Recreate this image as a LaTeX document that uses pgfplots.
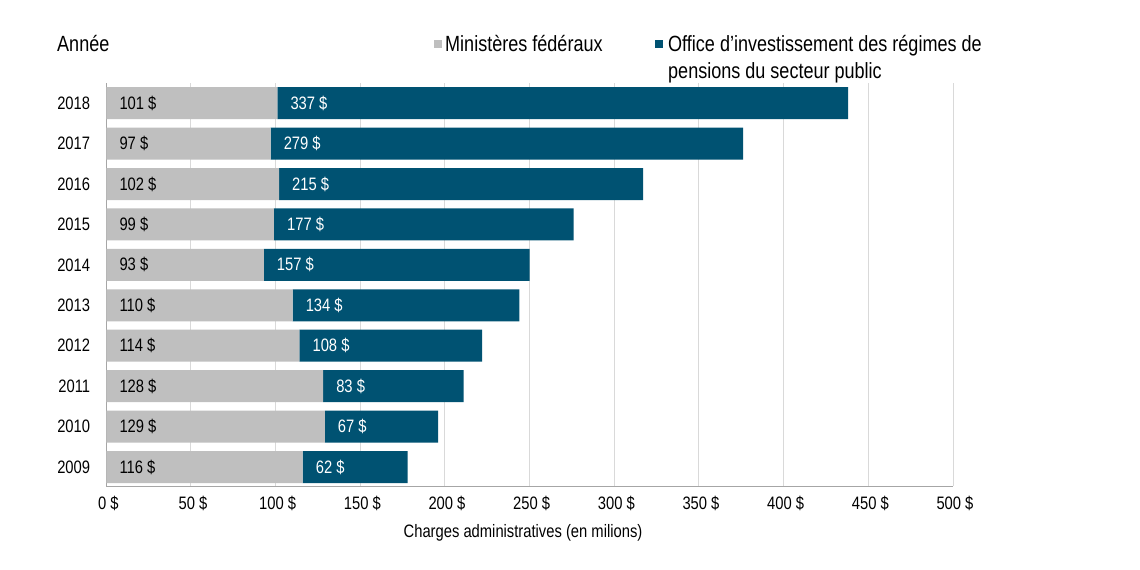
\documentclass[border=0pt]{standalone}
\usepackage{fontspec}
\setmainfont{Liberation Sans}[FakeStretch=0.82]
\usepackage{pgfplots}
\pgfplotsset{compat=1.18}
\definecolor{gbar}{HTML}{BFBFBF}
\definecolor{bbar}{HTML}{005272}
\definecolor{gridc}{HTML}{D9D9D9}
\definecolor{axc}{HTML}{A6A6A6}
\newcommand\fs[1]{\fontsize{#1}{#1}\selectfont}
\pgfplotsset{
  common/.style={
    at={(106.3pt,84pt)}, anchor=south west,
    scale only axis, width=846.7pt, height=403pt,
    xmin=0, xmax=500, ymin=-0.47, ymax=9.5,
  }
}
\begin{document}
\begin{tikzpicture}
\useasboundingbox (0,0) rectangle (1140pt,570pt);
\begin{axis}[
  common,
  xbar stacked, bar width=32pt,
  axis x line*=bottom, axis y line*=left,
  axis line style={axc, line width=1pt},
  xtick={0,50,...,500},
  xticklabels={0~\$,50~\$,100~\$,150~\$,200~\$,250~\$,300~\$,350~\$,400~\$,450~\$,500~\$},
  ytick={0,...,9},
  yticklabels={2009,2010,2011,2012,2013,2014,2015,2016,2017,2018},
  major tick length=0pt,
  xmajorgrids, major grid style={gridc, line width=1pt},
  xticklabel style={font=\fs{18}, anchor=north, inner sep=0pt, yshift=-10pt, xshift=2pt},
  yticklabel style={font=\fs{18}, anchor=east, inner sep=0pt, xshift=-16pt},
]
\addplot[fill=gbar, draw=none] coordinates {
(116,0) (129,1) (128,2) (114,3) (110,4) (93,5) (99,6) (102,7) (97,8) (101,9)};
\addplot[fill=bbar, draw=none] coordinates {
(62,0) (67,1) (83,2) (108,3) (134,4) (157,5) (177,6) (215,7) (279,8) (337,9)};
\end{axis}
\begin{axis}[
  common, hide axis,
  point meta=explicit symbolic,
  nodes near coords={\pgfplotspointmeta~\$},
  nodes near coords align=horizontal,
]
\addplot[draw=none, mark=none, nodes near coords style={anchor=west, inner sep=0pt, xshift=13pt, font=\fs{18}, text=black}] coordinates {
(0,0) [116] (0,1) [129] (0,2) [128] (0,3) [114] (0,4) [110] (0,5) [93] (0,6) [99] (0,7) [102] (0,8) [97] (0,9) [101]};
\addplot[draw=none, mark=none, nodes near coords style={anchor=west, inner sep=0pt, xshift=13pt, font=\fs{18}, text=white}] coordinates {
(116,0) [62] (129,1) [67] (128,2) [83] (114,3) [108] (110,4) [134] (93,5) [157] (99,6) [177] (102,7) [215] (97,8) [279] (101,9) [337]};
\end{axis}
\node[anchor=base west, inner sep=0pt, font=\fs{22}] at (57pt,518pt) {Année};
\fill[gbar] (434pt,522pt) rectangle (442pt,530pt);
\node[anchor=base west, inner sep=0pt, font=\fs{22}] at (445pt,518pt) {Ministères fédéraux};
\fill[bbar] (655pt,522pt) rectangle (663pt,530pt);
\node[anchor=base west, inner sep=0pt, font=\fs{22}] at (668pt,518pt) {Office d’investissement des régimes de};
\node[anchor=base west, inner sep=0pt, font=\fs{22}] at (668pt,491pt) {pensions du secteur public};
\node[anchor=base, inner sep=0pt, font=\fs{18}] at (523pt,32pt) {Charges administratives (en milions)};
\end{tikzpicture}
\end{document}
